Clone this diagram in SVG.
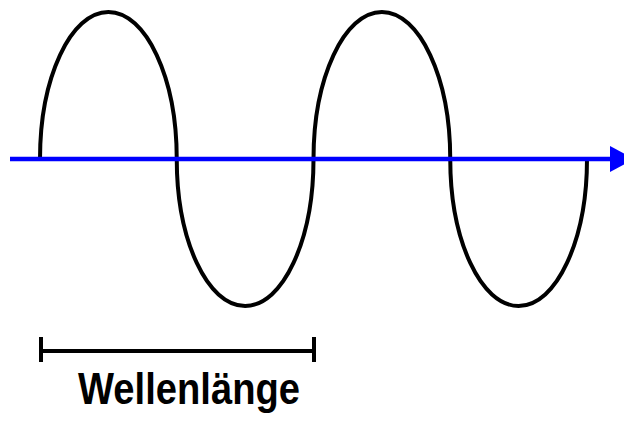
<svg xmlns="http://www.w3.org/2000/svg" width="624" height="428" viewBox="0 0 624 428">
<style>
.wave{fill:none;stroke:#000;stroke-width:4}
.axis{stroke:#0000ff;stroke-width:4.5}
.bar{stroke:#000;stroke-width:4;fill:none}
.lbl{font-family:"Liberation Sans",Arial,sans-serif;font-weight:bold;font-size:45px;fill:#000}
</style>
<g id="wave">
<path class="wave" d="M40,159
c 0,-81.19 30.615,-147 68.375,-147 c 37.76,0 68.375,65.81 68.375,147
c 0,81.19 30.615,147 68.375,147 c 37.76,0 68.375,-65.81 68.375,-147
c 0,-81.19 30.615,-147 68.375,-147 c 37.76,0 68.375,65.81 68.375,147
c 0,81.19 30.615,147 68.375,147 c 37.76,0 68.375,-65.81 68.375,-147"/>
</g>
<g id="axis">
<line class="axis" x1="10" y1="159" x2="612" y2="159"/>
<polygon points="610,146 634,159 610,172" fill="#0000ff"/>
</g>
<g id="scale">
<line class="bar" x1="41" y1="351" x2="314" y2="351"/>
<line class="bar" x1="41" y1="337" x2="41" y2="362"/>
<line class="bar" x1="314" y1="337" x2="314" y2="362"/>
</g>
<g id="label">
<text class="lbl" x="78" y="404" textLength="222" lengthAdjust="spacingAndGlyphs">Wellenlänge</text>
</g>
</svg>
